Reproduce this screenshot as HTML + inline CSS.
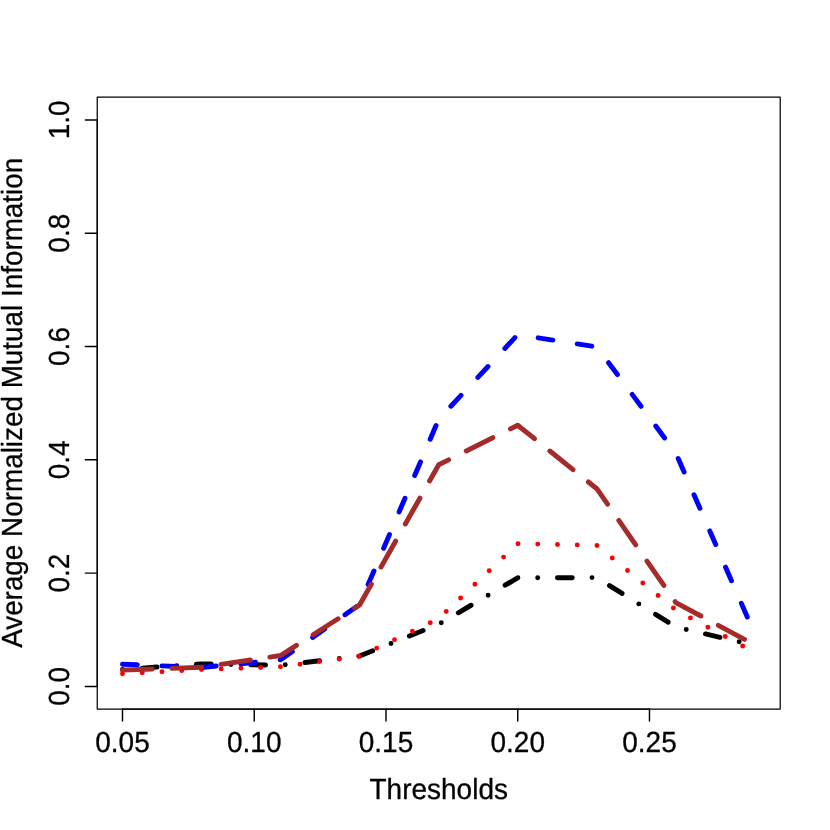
<!DOCTYPE html>
<html><head><meta charset="utf-8"><title>plot</title>
<style>
html,body{margin:0;padding:0;background:#fff;}
svg{display:block;will-change:transform;}
text{font-family:"Liberation Sans",sans-serif;font-size:28.0px;fill:#000;stroke:#000;stroke-width:0.3;stroke-linejoin:round;text-rendering:geometricPrecision;}
.ax{stroke:#000;stroke-width:1.235;fill:none;stroke-linecap:round;stroke-linejoin:round;}
.ln{fill:none;stroke-width:4.94;stroke-linecap:round;stroke-linejoin:round;}
</style></head><body>
<svg width="830" height="830" viewBox="0 0 830 830">
<rect x="0" y="0" width="830" height="830" fill="#fff"/>
<polyline class="ln" stroke="#000000" stroke-dasharray="0 19.76 14.82 19.76" points="122.5,669.5 201.5,663.9 280.6,665.3 359.6,656.0 438.7,624.3 517.7,577.8 596.8,577.6 675.8,627.0 754.9,645.5"/>
<polyline class="ln" stroke="#ff0000" stroke-dasharray="0 19.76" points="122.5,673.8 201.5,669.6 280.6,666.8 359.6,656.2 438.7,618.7 517.7,543.7 596.8,545.3 675.8,610.0 754.9,652.5"/>
<polyline class="ln" stroke="#0000ff" stroke-dasharray="14.82 24.70" points="122.5,664.2 201.5,667.5 280.6,659.8 359.6,604.5 438.7,419.3 517.7,334.7 596.8,346.9 675.8,453.0 754.9,634.4"/>
<polyline class="ln" stroke="#a52a2a" stroke-dasharray="29.64 19.76" points="122.5,670.1 201.5,667.3 280.6,655.5 359.6,605.0 438.7,464.8 517.7,425.2 596.8,488.7 675.8,602.6 754.9,644.9"/>
<rect class="ax" x="97.23" y="97.23" width="682.97" height="611.83"/>
<path class="ax" d="M122.50,709.06 L649.48,709.06"/>
<path class="ax" style="stroke-width:1.45" d="M122.50,709.06 v11.86"/>
<text transform="translate(122.50,751.6) scale(1.0,1.04)" text-anchor="middle">0.05</text>
<path class="ax" style="stroke-width:1.45" d="M254.25,709.06 v11.86"/>
<text transform="translate(254.25,751.6) scale(1.0,1.04)" text-anchor="middle">0.10</text>
<path class="ax" style="stroke-width:1.45" d="M385.99,709.06 v11.86"/>
<text transform="translate(385.99,751.6) scale(1.0,1.04)" text-anchor="middle">0.15</text>
<path class="ax" style="stroke-width:1.45" d="M517.74,709.06 v11.86"/>
<text transform="translate(517.74,751.6) scale(1.0,1.04)" text-anchor="middle">0.20</text>
<path class="ax" style="stroke-width:1.45" d="M649.48,709.06 v11.86"/>
<text transform="translate(649.48,751.6) scale(1.0,1.04)" text-anchor="middle">0.25</text>
<path class="ax" d="M97.23,686.40 L97.23,119.90"/>
<path class="ax" style="stroke-width:1.45" d="M97.23,686.40 h-11.86"/>
<text transform="translate(68.9,686.40) rotate(-90) scale(1.0,1.04)" text-anchor="middle">0.0</text>
<path class="ax" style="stroke-width:1.45" d="M97.23,573.10 h-11.86"/>
<text transform="translate(68.9,573.10) rotate(-90) scale(1.0,1.04)" text-anchor="middle">0.2</text>
<path class="ax" style="stroke-width:1.45" d="M97.23,459.80 h-11.86"/>
<text transform="translate(68.9,459.80) rotate(-90) scale(1.0,1.04)" text-anchor="middle">0.4</text>
<path class="ax" style="stroke-width:1.45" d="M97.23,346.50 h-11.86"/>
<text transform="translate(68.9,346.50) rotate(-90) scale(1.0,1.04)" text-anchor="middle">0.6</text>
<path class="ax" style="stroke-width:1.45" d="M97.23,233.20 h-11.86"/>
<text transform="translate(68.9,233.20) rotate(-90) scale(1.0,1.04)" text-anchor="middle">0.8</text>
<path class="ax" style="stroke-width:1.45" d="M97.23,119.90 h-11.86"/>
<text transform="translate(68.9,119.90) rotate(-90) scale(1.0,1.04)" text-anchor="middle">1.0</text>
<text transform="translate(438.7,799) scale(1.0,1.04)" text-anchor="middle">Thresholds</text>
<text transform="translate(21.9,402.8) rotate(-90) scale(0.9945,1.04)" text-anchor="middle">Average Normalized Mutual Information</text>
</svg>
</body></html>
